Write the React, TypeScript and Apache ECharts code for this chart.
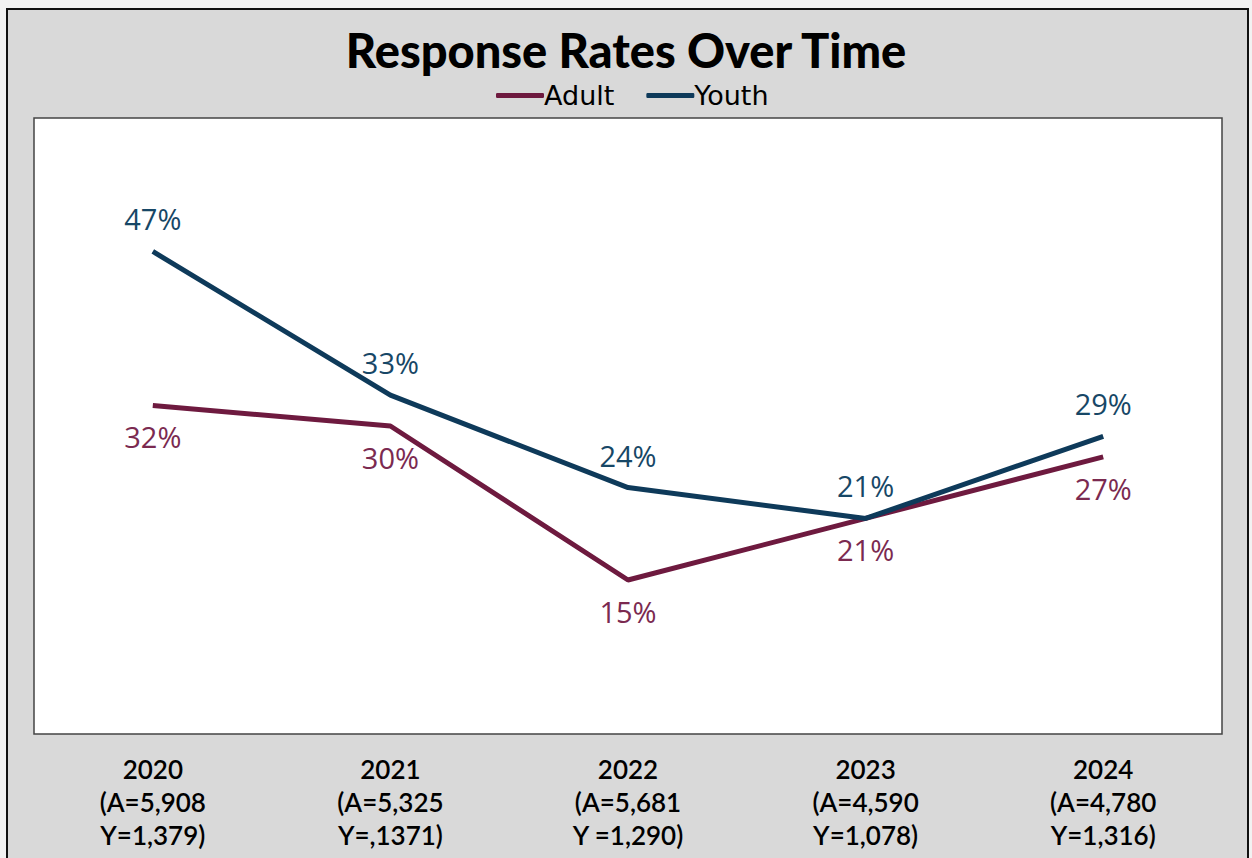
import React, { useEffect, useRef } from "react";
import * as echarts from "echarts";

const years = ["2020", "2021", "2022", "2023", "2024"];
const adultN = ["(A=5,908", "(A=5,325", "(A=5,681", "(A=4,590", "(A=4,780"];
const youthN = ["Y=1,379)", "Y=,1371)", "Y =1,290)", "Y=1,078)", "Y=1,316)"];
const adult = [32, 30, 15, 21, 27];
const youth = [47, 33, 24, 21, 29];

export default function App() {
  const ref = useRef<HTMLDivElement>(null);
  useEffect(() => {
    document.body.style.margin = "0";
    const chart = echarts.init(ref.current!, null, { renderer: "svg" });
    const categories = years.map((y, i) => `${y}\n${adultN[i]}\n${youthN[i]}`);
    chart.setOption({
      animation: false,
      backgroundColor: "#f2f2f2",
      graphic: [
        {
          type: "rect",
          shape: { x: 7, y: 9, width: 1241, height: 860 },
          style: { fill: "#d9d9d9", stroke: "#111", lineWidth: 2 },
          z: -10,
        },
      ],
      title: {
        text: "Response Rates Over Time",
        left: "center",
        top: 21,
        textStyle: { fontFamily: "Lato", fontWeight: 900, fontSize: 47, color: "#000" },
      },
      legend: {
        data: ["Adult", "Youth"],
        left: 491,
        top: 77,
        itemWidth: 48,
        itemHeight: 5,
        itemGap: 32,
        icon: "roundRect",
        textStyle: { fontFamily: "DejaVu Sans", fontWeight: 500, fontSize: 27, color: "#000", padding: [0, 0, 0, -5] },
      },
      grid: {
        left: 34,
        top: 118,
        width: 1188,
        height: 616,
        show: true,
        backgroundColor: "#ffffff",
        borderColor: "#444",
        borderWidth: 1.5,
      },
      xAxis: {
        type: "category",
        data: categories,
        boundaryGap: true,
        axisLine: { show: false },
        axisTick: { show: false },
        splitLine: { show: false },
        axisLabel: {
          margin: 18,
          fontFamily: "Lato",
          fontWeight: 600,
          fontSize: 26,
          lineHeight: 33,
          color: "#000",
        },
      },
      yAxis: {
        type: "value",
        min: 0,
        max: 60,
        show: false,
        splitLine: { show: false },
      },
      series: [
        {
          name: "Adult",
          type: "line",
          data: adult,
          color: "#6e1a3f",
          symbol: "circle",
          symbolSize: 0,
          showSymbol: true,
          lineStyle: { width: 5, color: "#6e1a3f" },
          label: {
            show: true,
            position: "bottom",
            distance: 17,
            formatter: "{c}%",
            fontFamily: "Open Sans",
            fontSize: 29,
            color: "#7b2a50",
          },
        },
        {
          name: "Youth",
          type: "line",
          data: youth,
          color: "#0e3a5a",
          symbol: "circle",
          symbolSize: 0,
          showSymbol: true,
          lineStyle: { width: 5, color: "#0e3a5a" },
          label: {
            show: true,
            position: "top",
            distance: 18,
            formatter: "{c}%",
            fontFamily: "Open Sans",
            fontSize: 29,
            color: "#174766",
          },
        },
      ],
    });
    return () => chart.dispose();
  }, []);
  return <div ref={ref} style={{ position: "fixed", left: 0, top: 0, width: 1252, height: 858 }} />;
}
